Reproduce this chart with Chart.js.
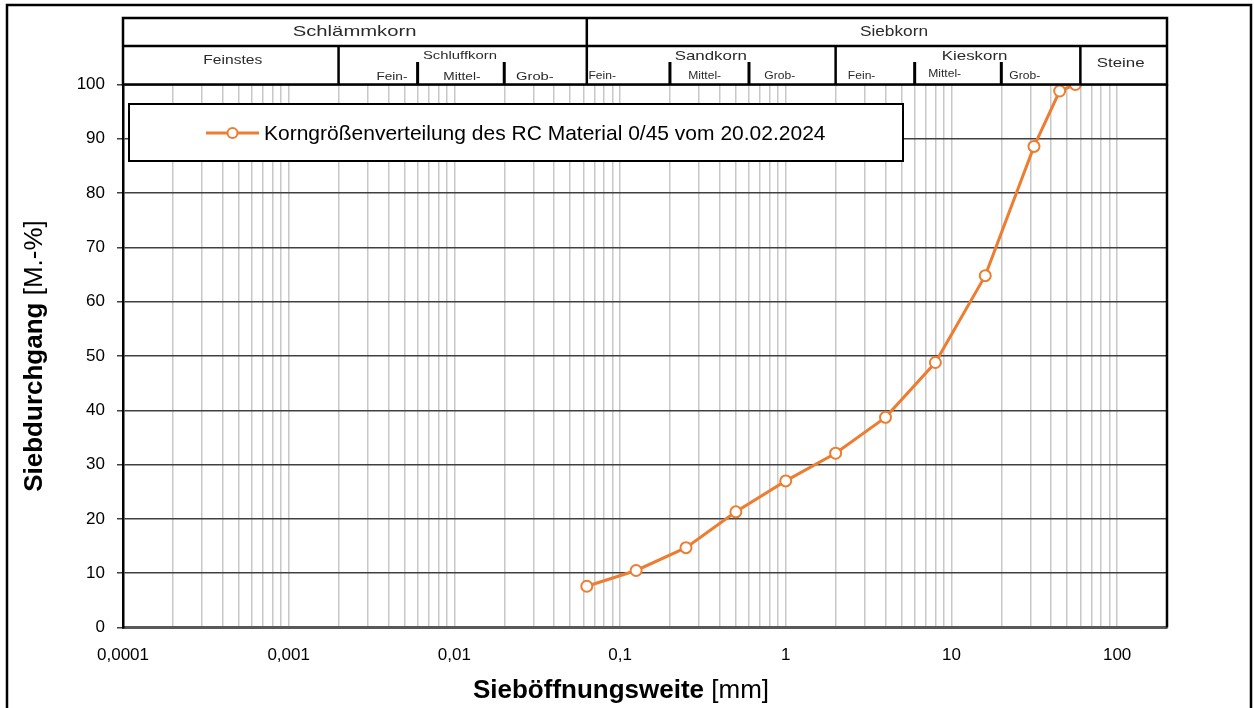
<!DOCTYPE html>
<html lang="de">
<head>
    <meta charset="UTF-8">
    <title>Korngrößenverteilung RC Material 0/45</title>
    <script src="https://cdn.jsdelivr.net/npm/chart.js"></script>
    <style>
        html, body { margin: 0; padding: 0; background: #fff; }
        #rahmen { position: relative; width: 1254px; height: 708px; }
    </style>
</head>
<body>
    <div id="rahmen">
        <canvas id="siebChart" width="1254" height="708"></canvas>
    </div>

    <script>
        // Daten
        const siebweiten = [0.063, 0.125, 0.25, 0.5, 1, 2, 4, 8, 16, 31.5, 45, 56];
        const durchgang = [7.6, 10.5, 14.7, 21.3, 27.0, 32.1, 38.7, 48.8, 64.8, 88.6, 98.8, 100];
        const reiheName = "Korngrößenverteilung des RC Material 0/45 vom 20.02.2024";

        const xDekaden = [0.0001, 0.001, 0.01, 0.1, 1, 10, 100];
        const xLabels = ["0,0001", "0,001", "0,01", "0,1", "1", "10", "100"];
        const yMax = 100;
        const yStep = 10;

        // Kopfzeile (Grenzen in mm)
        const grenzeSchlaemmSieb = 0.063;
        const grenzenGruppe = [0.002, 2, 60];
        const grenzenTeil = [0.006, 0.02, 0.2, 0.6, 6, 20];
        // [Text, Lage in mm, Zeile-y, Schriftgröße, Breitenfaktor]
        const kopfTexte = [
            ["Schlämmkorn", 0.0025, 32, 15, 1.35],
            ["Siebkorn", 4.5, 32, 15, 1.15],
            ["Feinstes", 0.00046, 61, 12, 1.3],
            ["Schluffkorn", 0.0108, 56, 11, 1.35],
            ["Fein-", 0.0042, 77, 10.5, 1.3],
            ["Mittel-", 0.0111, 77, 10.5, 1.3],
            ["Grob-", 0.0306, 77, 10.5, 1.4],
            ["Sandkorn", 0.353, 56, 13, 1.3],
            ["Fein-", 0.078, 76, 11, 1.1],
            ["Mittel-", 0.324, 76, 11, 1.1],
            ["Grob-", 0.92, 76, 11, 1.1],
            ["Kieskorn", 13.8, 56, 13, 1.3],
            ["Fein-", 2.87, 76, 11, 1.1],
            ["Mittel-", 9.1, 73.5, 11, 1.1],
            ["Grob-", 27.7, 76, 11, 1.1],
            ["Steine", 105, 63, 13, 1.3]
        ];

        // alle Teilstriche 1..9 je Dekade
        const xGitter = [];
        xDekaden.forEach(function(d, i) {
            if (i === xDekaden.length - 1) { xGitter.push(d); return; }
            for (let k = 1; k <= 9; k++) xGitter.push(+(d * k).toPrecision(3));
        });

        const schrift = "'Liberation Sans', Arial, sans-serif";
        const orange = "#ED7D31";

        const zeichenPlugin = {
            id: "zeichenPlugin",
            afterDraw: function(chart) {
                const ctx = chart.ctx;
                const ca = chart.chartArea;
                const xs = chart.scales.x;
                ctx.save();

                // rechter Rand des Diagramms
                ctx.strokeStyle = "#000";
                ctx.lineWidth = 2.5;
                ctx.beginPath();
                ctx.moveTo(ca.right, ca.top);
                ctx.lineTo(ca.right, ca.bottom);
                ctx.stroke();

                // Kopftabelle
                const kTop = 18, kMitte = 46, kUnten = ca.top;
                const links = xs.getPixelForValue(0.0001);
                const rechts = ca.right;
                ctx.fillStyle = "#fff";
                ctx.fillRect(links, kTop, rechts - links, kUnten - kTop);
                ctx.strokeStyle = "#000";
                ctx.lineWidth = 2.5;
                ctx.strokeRect(links, kTop, rechts - links, kUnten - kTop);
                ctx.beginPath();
                ctx.moveTo(links, kMitte);
                ctx.lineTo(rechts, kMitte);
                const xs1 = xs.getPixelForValue(grenzeSchlaemmSieb);
                ctx.moveTo(xs1, kTop);
                ctx.lineTo(xs1, kUnten);
                grenzenGruppe.forEach(function(g) {
                    const px = xs.getPixelForValue(g);
                    ctx.moveTo(px, kMitte);
                    ctx.lineTo(px, kUnten);
                });
                ctx.stroke();
                ctx.lineWidth = 3;
                ctx.beginPath();
                grenzenTeil.forEach(function(g) {
                    const px = xs.getPixelForValue(g);
                    ctx.moveTo(px, 62);
                    ctx.lineTo(px, kUnten);
                });
                ctx.stroke();

                ctx.fillStyle = "#2a2a2a";
                ctx.textAlign = "center";
                ctx.textBaseline = "middle";
                kopfTexte.forEach(function(t) {
                    ctx.save();
                    ctx.translate(xs.getPixelForValue(t[1]), t[2]);
                    ctx.scale(t[4], 1);
                    ctx.font = t[3] + "px " + schrift;
                    ctx.fillText(t[0], 0, 0);
                    ctx.restore();
                });

                // Legende
                ctx.fillStyle = "#fff";
                ctx.fillRect(129, 104, 774, 57);
                ctx.strokeStyle = "#000";
                ctx.lineWidth = 2;
                ctx.strokeRect(129, 104, 774, 57);
                ctx.strokeStyle = orange;
                ctx.lineWidth = 3;
                ctx.beginPath();
                ctx.moveTo(206, 133);
                ctx.lineTo(259, 133);
                ctx.stroke();
                ctx.beginPath();
                ctx.arc(232.5, 133, 5, 0, Math.PI * 2);
                ctx.fillStyle = "#fff";
                ctx.fill();
                ctx.lineWidth = 2;
                ctx.stroke();
                ctx.fillStyle = "#000";
                ctx.textAlign = "left";
                ctx.font = "21px " + schrift;
                ctx.fillText(reiheName, 264, 134);

                // Achsentitel
                function titel(fett, normal, x, y, drehen) {
                    ctx.save();
                    ctx.translate(x, y);
                    if (drehen) ctx.rotate(-Math.PI / 2);
                    ctx.font = "bold 26px " + schrift;
                    const b1 = ctx.measureText(fett).width;
                    ctx.font = "26px " + schrift;
                    const b2 = ctx.measureText(normal).width;
                    const start = -(b1 + b2) / 2;
                    ctx.fillStyle = "#000";
                    ctx.textAlign = "left";
                    ctx.textBaseline = "middle";
                    ctx.font = "bold 26px " + schrift;
                    ctx.fillText(fett, start, 0);
                    ctx.font = "26px " + schrift;
                    ctx.fillText(normal, start + b1, 0);
                    ctx.restore();
                }
                titel("Sieböffnungsweite", " [mm]", 621, 691, false);
                titel("Siebdurchgang", " [M.-%]", 35, (ca.top + ca.bottom) / 2, true);

                // äußerer Rahmen (unten abgeschnitten)
                ctx.strokeStyle = "#000";
                ctx.lineWidth = 2.5;
                ctx.strokeRect(7, 5, 1244, 710);
                ctx.restore();
            }
        };

        const punkte = siebweiten.map(function(w, i) {
            return { x: w, y: durchgang[i] };
        });

        const siebChart = new Chart(document.getElementById("siebChart"), {
            type: "scatter",
            data: {
                datasets: [{
                    label: reiheName,
                    data: punkte,
                    showLine: true,
                    borderColor: orange,
                    borderWidth: 3,
                    pointRadius: 5.5,
                    pointBackgroundColor: "#fff",
                    pointBorderColor: orange,
                    pointBorderWidth: 2,
                    tension: 0
                }]
            },
            options: {
                responsive: false,
                animation: false,
                layout: { padding: { top: 84.5, right: 87, left: 0, bottom: 0 } },
                plugins: {
                    legend: { display: false },
                    tooltip: { enabled: false }
                },
                scales: {
                    x: {
                        type: "logarithmic",
                        min: 0.0001,
                        max: 200,
                        afterBuildTicks: function(scale) {
                            scale.ticks = xGitter.map(function(v) { return { value: v }; });
                        },
                        afterFit: function(scale) { scale.height = 80.5; },
                        ticks: {
                            autoSkip: false,
                            maxRotation: 0,
                            padding: 18,
                            color: "#000",
                            font: { family: schrift, size: 17 },
                            callback: function(value) {
                                const i = xDekaden.indexOf(value);
                                return i >= 0 ? xLabels[i] : "";
                            }
                        },
                        grid: { color: "#c8c8c8", lineWidth: 1.5, drawTicks: false },
                        border: { color: "#595959", width: 3 }
                    },
                    y: {
                        min: 0,
                        max: yMax,
                        afterFit: function(scale) { scale.width = 123; },
                        ticks: {
                            stepSize: yStep,
                            padding: 12,
                            color: "#000",
                            font: { family: schrift, size: 17 }
                        },
                        grid: { color: "#404040", lineWidth: 1.5, tickLength: 6 },
                        border: { color: "#000", width: 2.5 }
                    }
                }
            },
            plugins: [zeichenPlugin]
        });
    </script>
</body>
</html>
